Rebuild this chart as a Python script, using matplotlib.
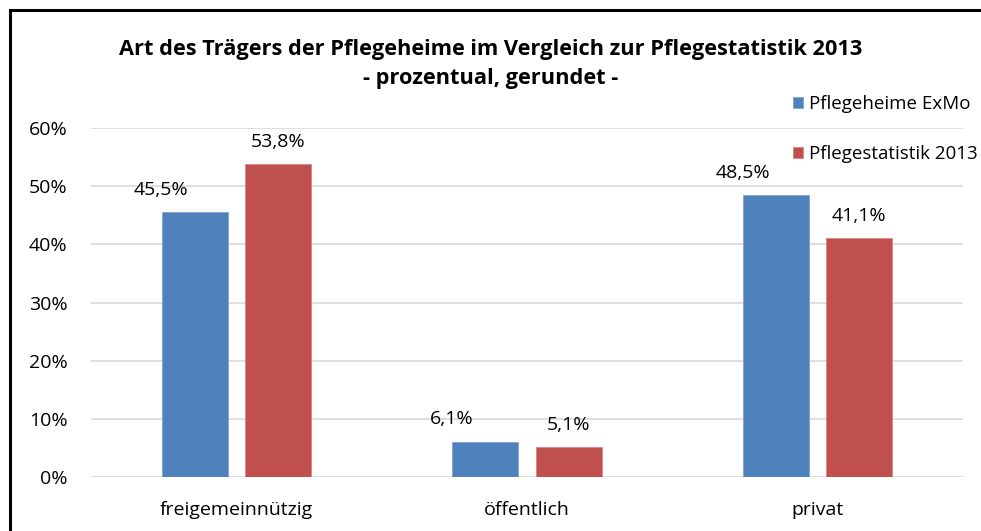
import matplotlib
matplotlib.use("Agg")
import matplotlib.pyplot as plt
from matplotlib.patches import Rectangle
import numpy as np

categories = ["freigemeinnützig", "öffentlich", "privat"]
series_names = ["Pflegeheime ExMo", "Pflegestatistik 2013"]
exmo = [45.5, 6.1, 48.5]
statistik = [53.8, 5.1, 41.1]
labels_exmo = ["45,5%", "6,1%", "48,5%"]
labels_stat = ["53,8%", "5,1%", "41,1%"]
yticks = [0, 10, 20, 30, 40, 50, 60]
ytick_labels = ["0%", "10%", "20%", "30%", "40%", "50%", "60%"]
title = "Art des Trägers der Pflegeheime im Vergleich zur Pflegestatistik 2013\n- prozentual, gerundet -"

plt.rcParams['font.family'] = ['Open Sans', 'DejaVu Sans']
FS = 14

fig = plt.figure(figsize=(9.81, 5.31), dpi=100)
ax = fig.add_axes([91/981, 1-477/531, (963-91)/981, (477-128)/531])

x = np.arange(len(categories))
w = 0.227
off = 0.143
blue = "#4F81BD"
red = "#C0504D"
b1 = ax.bar(x - off, exmo, w, color=blue, edgecolor="#7FA3D0", linewidth=0.6, label=series_names[0], zorder=3)
b2 = ax.bar(x + off, statistik, w, color=red, edgecolor="#D88784", linewidth=0.6, label=series_names[1], zorder=3)

for bars, labs, dx in ((b1, labels_exmo, -24), (b2, labels_stat, 0)):
    for rect, lab in zip(bars, labs):
        ax.annotate(lab, (rect.get_x() + rect.get_width()/2, rect.get_height()),
                    xytext=(dx, 9.5), textcoords="offset points", ha="center", va="bottom",
                    fontsize=FS, color="#000000")

ax.set_xlim(-0.5, 2.5)
ax.set_ylim(0, 60)
ax.set_yticks(yticks)
ax.set_yticklabels(ytick_labels, fontsize=FS)
ax.set_xticks(x)
ax.set_xticklabels(categories, fontsize=FS)
ax.tick_params(axis="y", length=0, pad=17)
ax.tick_params(axis="x", length=0, pad=17)
ax.grid(axis="y", color="#D9D9D9", linewidth=1.2, zorder=0)
for s in ax.spines.values():
    s.set_visible(False)
ax.set_axisbelow(True)

fig.text(0.5, 1-64/531, title, ha="center", va="center", fontsize=15.7, fontweight="bold",
         linespacing=1.5)

leg = fig.legend(handles=[b1, b2], labels=series_names, loc="upper left",
                 bbox_to_anchor=(793/981, 1-95/531), frameon=False, fontsize=13.5,
                 handlelength=0.55, handleheight=0.55, handletextpad=0.3, labelspacing=1.7,
                 borderpad=0, borderaxespad=0)

fig.patches.append(Rectangle((10/981, -0.1), 1.2, (531-10)/531 + 0.1, transform=fig.transFigure,
                             fill=False, edgecolor="black", linewidth=2.2, zorder=10))

fig.savefig("out.png", dpi=100)
